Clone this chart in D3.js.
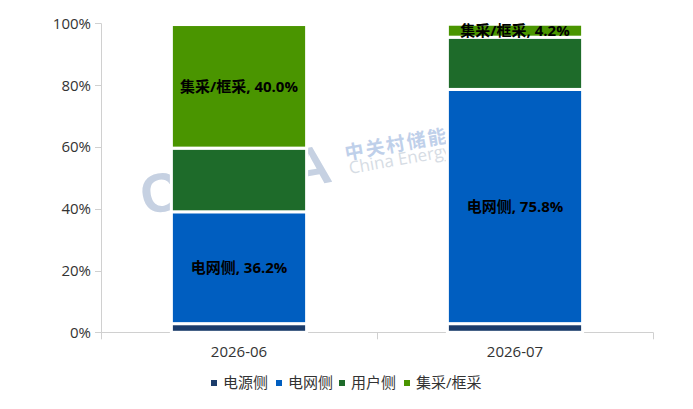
<!DOCTYPE html>
<html>
<head>
<meta charset="utf-8">
<script src="https://cdn.jsdelivr.net/npm/d3@7"></script>
<style>
  body { margin: 0; background: #fff; }
  svg { font-family: "Open Sans", "Noto Sans CJK SC", sans-serif; }
</style>
</head>
<body>
<div id="chart"></div>
<script>
const categories = ["2026-06", "2026-07"];
const seriesNames = ["电源侧", "电网侧", "用户侧", "集采/框采"];
const seriesColors = ["#1b3c6b", "#005ec0", "#1e6b2a", "#4a9500"];
// share of each segment, in percent, per month
const sourceSide = [2.8, 2.8];
const gridSide = [36.2, 75.8];
const userSide = [20.6, 16.9];
const centralized = [40.0, 4.2];
const labeledSeries = ["电网侧", "集采/框采"];
const yTicks = [0, 20, 40, 60, 80, 100];

const width = 693;
const height = 409;
const margin = { top: 23.3, right: 40, bottom: 76.7, left: 101 };

const rows = categories.map((c, i) => ({
  month: c,
  "电源侧": sourceSide[i],
  "电网侧": gridSide[i],
  "用户侧": userSide[i],
  "集采/框采": centralized[i],
}));

const svg = d3
  .select("#chart")
  .append("svg")
  .attr("width", width)
  .attr("height", height);

const x = d3
  .scaleBand()
  .domain(categories)
  .range([margin.left, width - margin.right])
  .padding(0);

const barWidth = x.bandwidth() * 0.49;

const y = d3
  .scaleLinear()
  .domain([0, 100])
  .range([height - margin.bottom, margin.top]);

const color = d3.scaleOrdinal().domain(seriesNames).range(seriesColors);

// watermark
const wm = svg.append("g").style("pointer-events", "none");
wm.append("text")
  .attr("transform", "translate(144,215) rotate(-10)")
  .attr("fill", "#c6d1e2")
  .style("font-family", "Liberation Sans, sans-serif")
  .style("font-weight", "bold")
  .style("font-size", "55px")
  .text("CNESA");
wm.append("text")
  .attr("transform", "translate(346,160) rotate(-10)")
  .attr("fill", "#bfd0ea")
  .style("font-family", "Noto Sans CJK SC, sans-serif")
  .style("font-weight", "bold")
  .style("font-size", "19px")
  .style("letter-spacing", "2px")
  .text("中关村储能产业技术联盟");
wm.append("text")
  .attr("transform", "translate(350,174) rotate(-10)")
  .attr("fill", "#d6dce4")
  .style("font-size", "17px")
  .text("China Energy Storage Alliance");

// axes
const axisColor = "#d0d0d0";
const yBase = y(0);

svg
  .append("line")
  .attr("x1", margin.left + 0.5)
  .attr("x2", margin.left + 0.5)
  .attr("y1", y(100))
  .attr("y2", yBase)
  .attr("stroke", axisColor);

svg
  .selectAll(".ytick")
  .data(yTicks)
  .enter()
  .append("g")
  .attr("class", "ytick")
  .each(function (d) {
    const g = d3.select(this);
    g.append("line")
      .attr("x1", margin.left - 6)
      .attr("x2", margin.left)
      .attr("y1", Math.round(y(d)) + 0.5)
      .attr("y2", Math.round(y(d)) + 0.5)
      .attr("stroke", axisColor);
    g.append("text")
      .attr("x", margin.left - 10)
      .attr("y", y(d))
      .attr("dy", "0.36em")
      .attr("text-anchor", "end")
      .attr("fill", "#333")
      .style("font-size", "15px")
      .text(d + "%");
  });

svg
  .append("line")
  .attr("x1", margin.left)
  .attr("x2", width - margin.right)
  .attr("y1", Math.round(yBase) + 0.5)
  .attr("y2", Math.round(yBase) + 0.5)
  .attr("stroke", axisColor);

const bounds = categories.map((c) => x(c)).concat([x(categories[categories.length - 1]) + x.bandwidth()]);
svg
  .selectAll(".xtick")
  .data(bounds)
  .enter()
  .append("line")
  .attr("class", "xtick")
  .attr("x1", (d) => Math.round(d) + 0.5)
  .attr("x2", (d) => Math.round(d) + 0.5)
  .attr("y1", yBase)
  .attr("y2", yBase + 7)
  .attr("stroke", axisColor);

svg
  .selectAll(".xlabel")
  .data(categories)
  .enter()
  .append("text")
  .attr("class", "xlabel")
  .attr("x", (d) => x(d) + x.bandwidth() / 2)
  .attr("y", yBase + 25)
  .attr("text-anchor", "middle")
  .attr("fill", "#333")
  .style("font-size", "15px")
  .text((d) => d);

// stacked bars
const stacked = d3.stack().keys(seriesNames)(rows);

const layers = svg
  .selectAll(".layer")
  .data(stacked)
  .enter()
  .append("g")
  .attr("class", "layer")
  .attr("fill", (d) => color(d.key));

layers
  .selectAll("rect")
  .data((d) => d)
  .enter()
  .append("rect")
  .attr("x", (d) => x(d.data.month) + (x.bandwidth() - barWidth) / 2)
  .attr("width", barWidth)
  .attr("y", (d) => y(d[1]))
  .attr("height", (d) => y(d[0]) - y(d[1]))
  .attr("stroke", "#fff")
  .attr("stroke-width", 3);

// labels
svg
  .selectAll(".lbl-layer")
  .data(stacked.filter((s) => labeledSeries.includes(s.key)))
  .enter()
  .append("g")
  .each(function (s) {
    d3.select(this)
      .selectAll("text")
      .data(s)
      .enter()
      .append("text")
      .attr("x", (d) => x(d.data.month) + x.bandwidth() / 2)
      .attr("y", (d) => (y(d[0]) + y(d[1])) / 2)
      .attr("dy", "0.36em")
      .attr("text-anchor", "middle")
      .attr("fill", "#000")
      .style("font-size", "15px")
      .style("font-weight", "bold")
      .text((d) => `${s.key}, ${d.data[s.key].toFixed(1)}%`);
  });

// legend
const legendX = [211, 276, 339, 404];
const legend = svg
  .selectAll(".legend")
  .data(seriesNames)
  .enter()
  .append("g")
  .attr("class", "legend")
  .attr("transform", (d, i) => `translate(${legendX[i]}, 383)`);

legend
  .append("rect")
  .attr("x", 0)
  .attr("y", -3)
  .attr("width", 6)
  .attr("height", 6)
  .attr("fill", (d) => color(d));

legend
  .append("text")
  .attr("x", 12)
  .attr("y", 0)
  .attr("dy", "0.36em")
  .attr("fill", "#333")
  .style("font-size", "15px")
  .text((d) => d);
</script>
</body>
</html>
